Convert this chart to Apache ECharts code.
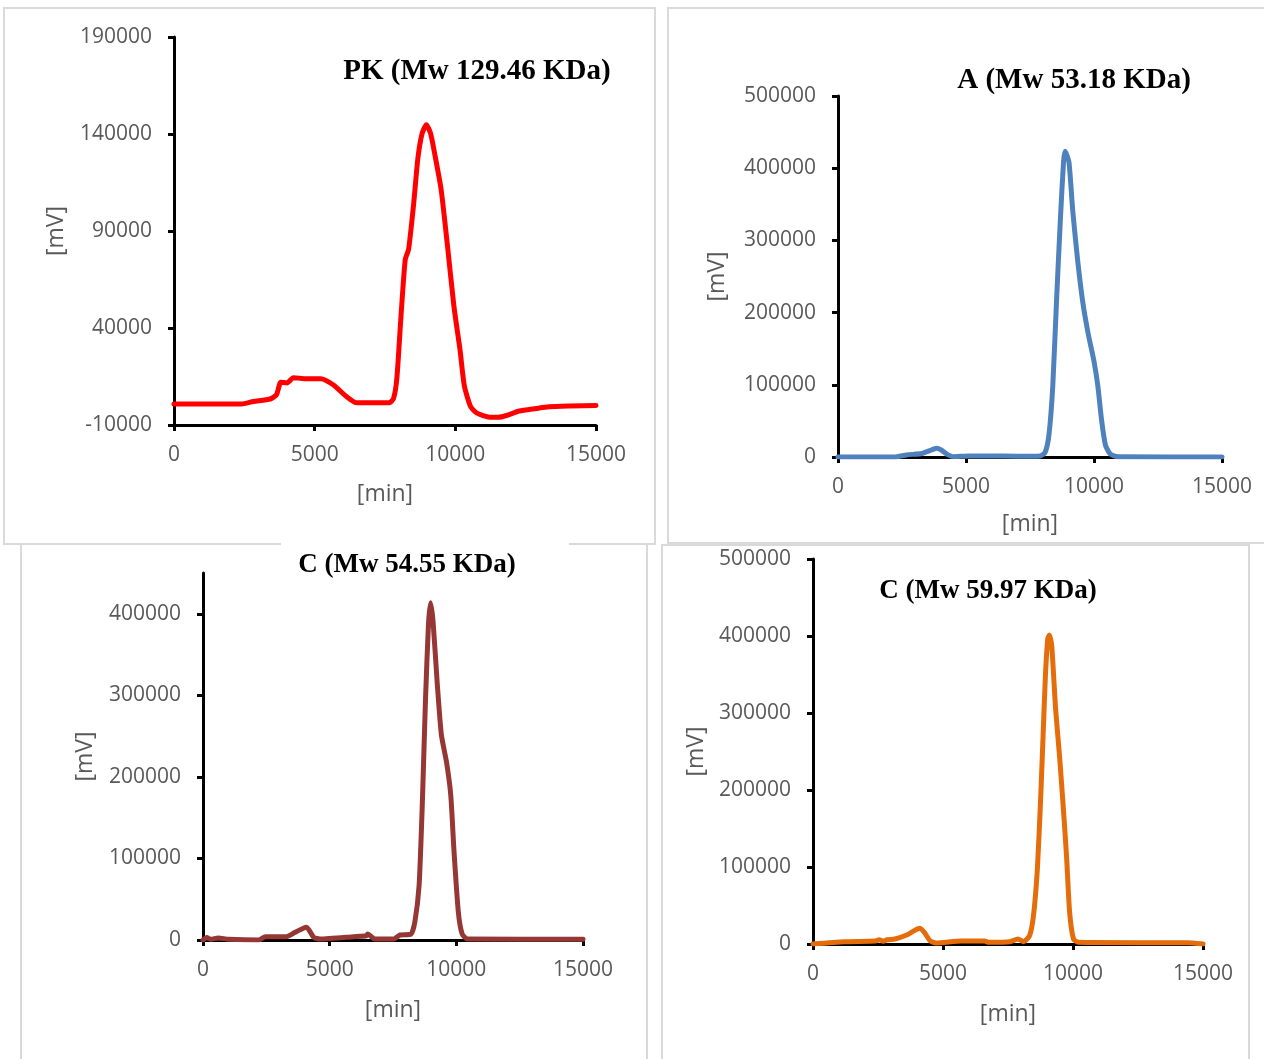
<!DOCTYPE html>
<html>
<head>
<meta charset="utf-8">
<script src="https://cdn.jsdelivr.net/npm/echarts@6/dist/echarts.min.js"></script>
<style>
  html, body { margin: 0; padding: 0; background: #fff; }
  #main { width: 1264px; height: 1059px; }
</style>
</head>
<body>
<div id="main"></div>
<script>
// PK (Mw 129.46 KDa)
const pkTime = [0, 2400, 2820, 3420, 3645, 3795, 4020, 4245, 4620, 5220, 5670, 6120, 6495, 7650, 7800, 7920, 8070, 8220, 8340, 8520, 8670, 8820, 8970, 9120, 9270, 9495, 9720, 9945, 10170, 10320, 10545, 10770, 11220, 11520, 11820, 12270, 12870, 13320, 14070, 15000]
const pkSignal = [800, 800, 2100, 3400, 5700, 12000, 11700, 14400, 13900, 13900, 10600, 4800, 1500, 1500, 3500, 13800, 46400, 75300, 80700, 104200, 127600, 140300, 144800, 140300, 129500, 111400, 82500, 51800, 28300, 10200, -600, -3900, -6000, -6000, -5100, -2800, -1500, -600, -200, 100]

// A (Mw 53.18 KDa)
const aTime = [0, 2200, 2680, 3280, 3580, 3850, 4030, 4250, 4480, 5100, 6000, 7000, 7900, 8090, 8240, 8390, 8540, 8690, 8810, 8870, 9020, 9170, 9360, 9560, 9770, 10000, 10150, 10300, 10450, 10640, 10940, 15000]
const aSignal = [0, 0, 2900, 4900, 8700, 12100, 9700, 3900, 500, 1500, 1500, 1000, 1500, 6300, 30600, 98500, 219700, 331200, 408800, 423400, 408800, 340900, 273000, 214800, 171200, 132400, 98500, 50000, 16000, 3900, 500, 0]

// C (Mw 54.55 KDa)
const c1Time = [0, 150, 300, 600, 1000, 2200, 2460, 3290, 3630, 3960, 4090, 4370, 4620, 5950, 6450, 6500, 6790, 7530, 7780, 8200, 8360, 8530, 8660, 8780, 8900, 8980, 9080, 9250, 9410, 9610, 9780, 9910, 10080, 10230, 10440, 15000]
const c1Signal = [0, 3000, 1000, 2500, 1000, 0, 4100, 4100, 9400, 14400, 15600, 3300, 1200, 4100, 5300, 7400, 1200, 1200, 6100, 7000, 21700, 66900, 169400, 292500, 386900, 413500, 391000, 313000, 251500, 218600, 177600, 107900, 34000, 7400, 1200, 1000]

// C (Mw 59.97 KDa)
const c2Time = [0, 1200, 2400, 2550, 2700, 2850, 3150, 3600, 3900, 4100, 4280, 4500, 4730, 5700, 6600, 6750, 7580, 7880, 8100, 8330, 8480, 8630, 8750, 8850, 8940, 9030, 9090, 9180, 9330, 9480, 9630, 9750, 9870, 10020, 10200, 14400, 15000]
const c2Signal = [0, 3000, 3900, 5600, 3500, 5600, 6500, 11700, 17400, 20400, 15200, 4300, 1300, 3900, 3900, 2200, 3000, 6500, 3000, 10800, 36900, 97600, 184300, 271000, 349100, 396800, 401200, 388100, 305700, 245000, 175600, 114900, 41200, 6500, 2200, 1500, 0]

const titles = ['PK (Mw 129.46 KDa)', 'A (Mw 53.18 KDa)', 'C (Mw 54.55 KDa)', 'C (Mw 59.97 KDa)']
const xTicks = [0, 5000, 10000, 15000]
const pkTicks = [-10000, 40000, 90000, 140000, 190000]
const aTicks = [0, 100000, 200000, 300000, 400000, 500000]
const c1Ticks = [0, 100000, 200000, 300000, 400000]
const c2Ticks = [0, 100000, 200000, 300000, 400000, 500000]
const lineColors = ['#ff0000', '#4f81bd', '#953735', '#e46c0a']

const pairs = (xs, ys) => xs.map((x, i) => [x, ys[i]])

// panel layout: grid box, y range, name gaps, title position/size
const panels = [
  { grid: { left: 174, top: 37, width: 422, height: 388 }, yMin: -10000, yMax: 190000, yTicks: pkTicks, data: pairs(pkTime, pkSignal), title: [477, 57], titleSize: 29, yGap: 106, xGap: 58 },
  { grid: { left: 838, top: 96, width: 384, height: 361 }, yMin: 0, yMax: 500000, yTicks: aTicks, data: pairs(aTime, aSignal), title: [1074, 66], titleSize: 29, yGap: 109, xGap: 56 },
  { grid: { left: 203, top: 573, width: 380, height: 367 }, yMin: 0, yMax: 450000, yTicks: c1Ticks, data: pairs(c1Time, c1Signal), title: [407, 552], titleSize: 27, yGap: 106, xGap: 59 },
  { grid: { left: 813, top: 559, width: 390, height: 385 }, yMin: 0, yMax: 500000, yTicks: c2Ticks, data: pairs(c2Time, c2Signal), title: [988, 578], titleSize: 27, yGap: 105, xGap: 59 }
]

const labelStyle = { color: '#595959', fontFamily: 'Open Sans', fontSize: 21 }
const nameStyle = { color: '#595959', fontFamily: 'Open Sans', fontSize: 23 }
const axisLine = { show: true, onZero: false, lineStyle: { color: '#000', width: 3 } }
const axisTick = (vals) => ({ show: true, length: 6, lineStyle: { color: '#000', width: 3 }, customValues: vals })
const plain = (v) => String(v)

const option = {
  animation: false,
  backgroundColor: '#fff',
  title: panels.map((p, i) => ({
    text: titles[i],
    left: p.title[0],
    top: p.title[1],
    textAlign: 'center',
    padding: 0,
    textStyle: { fontFamily: 'Liberation Serif', fontWeight: 'bold', fontSize: p.titleSize, color: '#000' }
  })),
  grid: panels.map(p => p.grid),
  xAxis: panels.map((p, i) => ({
    type: 'value',
    gridIndex: i,
    min: 0,
    max: 15000,
    name: '[min]',
    nameLocation: 'middle',
    nameGap: p.xGap,
    nameTextStyle: nameStyle,
    axisLine: axisLine,
    axisTick: axisTick(xTicks),
    axisLabel: { ...labelStyle, margin: 20, customValues: xTicks, formatter: plain },
    splitLine: { show: false }
  })),
  yAxis: panels.map((p, i) => ({
    type: 'value',
    gridIndex: i,
    min: p.yMin,
    max: p.yMax,
    name: '[mV]',
    nameLocation: 'middle',
    nameGap: p.yGap,
    nameTextStyle: nameStyle,
    axisLine: axisLine,
    axisTick: axisTick(p.yTicks),
    axisLabel: { ...labelStyle, margin: 22, customValues: p.yTicks, formatter: plain },
    splitLine: { show: false }
  })),
  series: panels.map((p, i) => ({
    type: 'line',
    xAxisIndex: i,
    yAxisIndex: i,
    data: p.data,
    showSymbol: false,
    smooth: 0.2,
    lineStyle: { color: lineColors[i], width: 5, cap: 'round', join: 'round' },
    z: 3
  })),
  // panel frames
  graphic: [
    { type: 'rect', shape: { x: 4, y: 8, width: 651, height: 536 }, style: { fill: 'none', stroke: '#d9d9d9', lineWidth: 2 }, z: -1 },
    { type: 'rect', shape: { x: 668, y: 8, width: 620, height: 535 }, style: { fill: 'none', stroke: '#d9d9d9', lineWidth: 2 }, z: -1 },
    { type: 'rect', shape: { x: 21, y: 544, width: 626, height: 540 }, style: { fill: 'none', stroke: '#d9d9d9', lineWidth: 2 }, z: -1 },
    { type: 'rect', shape: { x: 662, y: 545, width: 587, height: 540 }, style: { fill: 'none', stroke: '#d9d9d9', lineWidth: 2 }, z: -1 },
    { type: 'rect', shape: { x: 281, y: 539, width: 288, height: 10 }, style: { fill: '#fff' }, z: 0 }
  ]
}

const chart = echarts.init(document.getElementById('main'))
chart.setOption(option)
</script>
</body>
</html>
